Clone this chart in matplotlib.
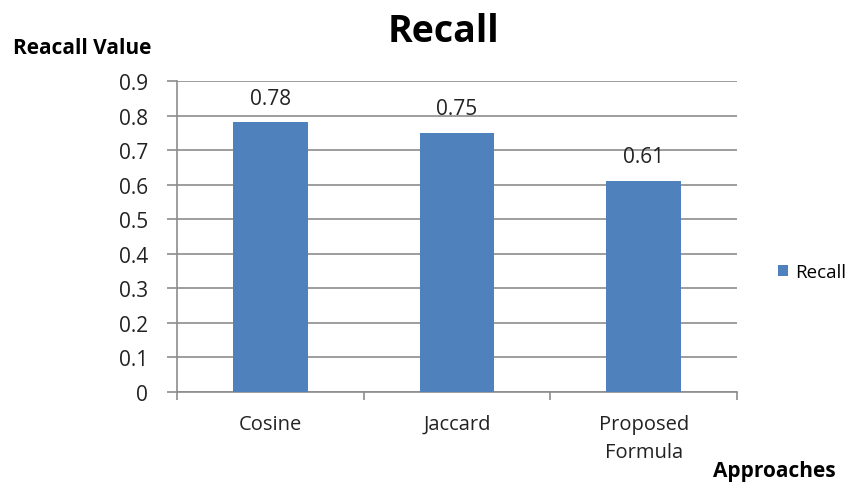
import matplotlib.pyplot as plt
import numpy as np

# recall per approach
approaches = ['Cosine', 'Jaccard', 'Proposed\nFormula']
recall = [0.78, 0.75, 0.61]
y_ticks = [0, 0.1, 0.2, 0.3, 0.4, 0.5, 0.6, 0.7, 0.8, 0.9]

plt.rcParams['font.family'] = ['Open Sans', 'DejaVu Sans']

fig = plt.figure(figsize=(8.63, 4.85), dpi=100)
ax = fig.add_axes([0.2051, 0.1897, 0.6489, 0.6413])

x = np.arange(len(approaches))
bars = ax.bar(x, recall, width=0.4, color='#4f81bd', zorder=3, label='Recall')

for b, v in zip(bars, recall):
    ax.text(b.get_x() + b.get_width() / 2, v + 0.04, f'{v:g}',
            ha='center', va='bottom', fontsize=15, color='#222222')

ax.set_xlim(-0.5, len(approaches) - 0.5)
ax.set_ylim(0, 0.9)
ax.set_yticks(y_ticks)
ax.set_yticklabels([f'{t:g}' for t in y_ticks], fontsize=15, color='#222222')
ax.yaxis.grid(True, color='#8c8c8c', linewidth=1.2, zorder=0)

# category labels centred under each bar, ticks on the group boundaries
ax.set_xticks(x)
ax.set_xticklabels(approaches, fontsize=14.5, color='#222222', linespacing=1.5)
ax.tick_params(axis='x', length=0, pad=16)
ax.set_xticks(np.arange(-0.5, len(approaches)), minor=True)
ax.tick_params(axis='x', which='minor', length=6, color='#8c8c8c', width=1.2)
ax.tick_params(axis='y', length=7, color='#8c8c8c', width=1.2, pad=14)

for side in ['top', 'right']:
    ax.spines[side].set_visible(False)
for side in ['left', 'bottom']:
    ax.spines[side].set_color('#8c8c8c')
    ax.spines[side].set_linewidth(1.2)

fig.text(0.514, 0.933, 'Recall', ha='center', va='center',
         fontsize=27, fontweight='bold')
fig.text(0.015, 0.9, 'Reacall Value', ha='left', va='center',
         fontsize=15, fontweight='bold')
fig.text(0.968, 0.027, 'Approaches', ha='right', va='center',
         fontsize=15, fontweight='bold')

ax.legend(loc='center left', bbox_to_anchor=(1.06, 0.385), frameon=False,
          fontsize=13.5, handlelength=0.55, handleheight=0.55, handletextpad=0.35,
          borderaxespad=0)

fig.savefig('out.png', dpi=100)
